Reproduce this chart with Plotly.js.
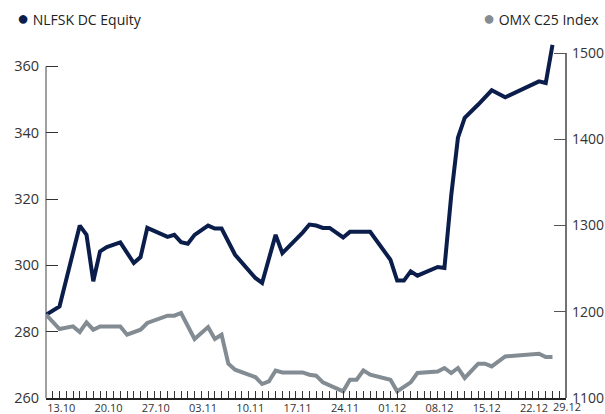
<!DOCTYPE html>
<html>
<head>
<meta charset="utf-8">
<script src="https://cdn.plot.ly/plotly-3.0.1.min.js"></script>
<style>html,body{margin:0;padding:0;background:#fff}#chart{width:605px;height:414px}</style>
</head>
<body>
<div id="chart"></div>
<script>
// NLFSK DC Equity (left axis)
const equityDates = ["2014-10-13","2014-10-15","2014-10-18","2014-10-19","2014-10-20","2014-10-21","2014-10-22","2014-10-24","2014-10-26","2014-10-27","2014-10-28","2014-10-31","2014-11-01","2014-11-02","2014-11-03","2014-11-04","2014-11-06","2014-11-07","2014-11-08","2014-11-10","2014-11-13","2014-11-14","2014-11-16","2014-11-17","2014-11-20","2014-11-21","2014-11-22","2014-11-23","2014-11-24","2014-11-26","2014-11-27","2014-11-30","2014-12-03","2014-12-04","2014-12-05","2014-12-06","2014-12-07","2014-12-10","2014-12-11","2014-12-12","2014-12-13","2014-12-14","2014-12-16","2014-12-18","2014-12-20","2014-12-25","2014-12-26","2014-12-27"];
const equityValues = [285.1,287.6,312.0,309.2,295.2,304.2,305.5,306.9,300.7,302.5,311.3,308.6,309.2,307.0,306.5,309.2,312.0,311.1,311.1,303.2,296.2,294.7,309.2,303.7,309.9,312.3,312.0,311.3,311.3,308.4,310.1,310.1,301.7,295.4,295.4,298.2,296.9,299.5,299.2,321.0,338.5,344.5,348.5,352.8,350.7,355.5,355.0,366.5];

// OMX C25 Index (right axis)
const indexDates = ["2014-10-13","2014-10-15","2014-10-17","2014-10-18","2014-10-19","2014-10-20","2014-10-21","2014-10-24","2014-10-25","2014-10-27","2014-10-28","2014-10-31","2014-11-01","2014-11-02","2014-11-04","2014-11-06","2014-11-07","2014-11-08","2014-11-09","2014-11-10","2014-11-13","2014-11-14","2014-11-15","2014-11-16","2014-11-17","2014-11-20","2014-11-21","2014-11-22","2014-11-23","2014-11-26","2014-11-27","2014-11-28","2014-11-29","2014-11-30","2014-12-03","2014-12-04","2014-12-06","2014-12-07","2014-12-10","2014-12-11","2014-12-12","2014-12-13","2014-12-14","2014-12-16","2014-12-17","2014-12-18","2014-12-20","2014-12-25","2014-12-26","2014-12-27"];
const indexValues = [1196.6,1180.0,1183.0,1176.5,1187.7,1179.2,1183.0,1183.0,1173.4,1179.2,1187.0,1195.4,1195.4,1198.6,1168.4,1182.3,1168.4,1173.4,1139.8,1132.8,1124.3,1116.2,1119.2,1131.7,1129.7,1129.7,1127.0,1125.9,1118.1,1107.7,1121.2,1121.2,1132.0,1127.0,1121.2,1107.7,1118.1,1129.0,1130.8,1134.8,1129.0,1134.8,1123.2,1139.8,1139.8,1136.6,1148.2,1151.4,1147.5,1147.5];

const tickDates = ["2014-10-13","2014-10-20","2014-10-27","2014-11-03","2014-11-10","2014-11-17","2014-11-24","2014-12-01","2014-12-08","2014-12-15","2014-12-22"];
const tickLabels = ["13.10","20.10","27.10","03.11","10.11","17.11","24.11","01.12","08.12","15.12","22.12"];
const lastTickDate = "2014-12-29";
const lastTickLabel = "29.12";

const leftTicks = [260,280,300,320,340,360];
const rightTicks = [1100,1200,1300,1400,1500];

const navy = "#0b1e4b";
const grey = "#838c93";
const font = "Open Sans, Noto Sans, sans-serif";

const traces = [
  {x: indexDates, y: indexValues, yaxis: "y2", type: "scatter", mode: "lines",
   line: {color: grey, width: 4}, name: "OMX C25 Index", showlegend: false},
  {x: equityDates, y: equityValues, yaxis: "y", type: "scatter", mode: "lines",
   line: {color: navy, width: 4}, name: "NLFSK DC Equity", showlegend: false}
];

const layout = {
  width: 605, height: 414,
  margin: {l: 46, r: 39, t: 40, b: 16},
  paper_bgcolor: "#fff", plot_bgcolor: "#fff",
  font: {family: font, color: "#333", size: 14},
  xaxis: {
    type: "date", range: ["2014-10-13", lastTickDate],
    tickmode: "array", tickvals: tickDates, ticktext: tickLabels,
    ticks: "inside", ticklen: 7, tickcolor: "#333", tickwidth: 1,
    ticklabelposition: "outside right", ticklabelstandoff: -1,
    minor: {dtick: 86400000, tick0: "2014-10-13", ticks: "inside", ticklen: 7, tickcolor: "#333", tickwidth: 1, showgrid: false},
    showline: true, linecolor: "#222", linewidth: 1.5,
    showgrid: false, zeroline: false, fixedrange: true,
    tickfont: {size: 11, color: "#333"}
  },
  yaxis: {
    range: [260, 367.96], tickmode: "array", tickvals: leftTicks,
    ticks: "inside", ticklen: 12, tickcolor: "#333", tickwidth: 1,
    ticklabelstandoff: 6,
    showline: false, showgrid: false, zeroline: false,
    tickfont: {size: 14.5, color: "#333"}
  },
  yaxis2: {
    range: [1100, 1515.07], overlaying: "y", side: "right",
    tickmode: "array", tickvals: rightTicks,
    ticks: "inside", ticklen: 12, tickcolor: "#555", tickwidth: 1,
    ticklabelstandoff: 5,
    showline: false, showgrid: false, zeroline: false,
    tickfont: {size: 14, color: "#333"}
  },
  shapes: [
    {type: "line", xref: "paper", yref: "y", x0: 0, x1: 0, y0: 260, y1: 360, line: {color: "#808080", width: 1.5}, layer: "below"},
    {type: "line", xref: "paper", yref: "y2", x0: 1, x1: 1, y0: 1100, y1: 1500, line: {color: "#444", width: 1.5}, layer: "below"}
  ],
  annotations: [
    {xref: "paper", yref: "paper", x: -0.06, y: 1.062, xanchor: "left", yanchor: "middle", showarrow: false,
     text: "<span style='font-size:20px;color:" + navy + "'>●</span> NLFSK DC Equity", font: {size: 14, color: "#222"}},
    {xref: "paper", yref: "paper", x: 1.068, y: 1.062, xanchor: "right", yanchor: "middle", showarrow: false,
     text: "<span style='font-size:20px;color:" + grey + "'>●</span> OMX C25 Index", font: {size: 14, color: "#222"}},
    {xref: "x", yref: "paper", x: lastTickDate, y: 0, xanchor: "center", yanchor: "middle", yshift: -8, xshift: 1, borderpad: 0, showarrow: false,
     text: lastTickLabel, font: {size: 11, color: "#333"}}
  ]
};

Plotly.newPlot("chart", traces, layout, {displayModeBar: false, staticPlot: true});
</script>
</body>
</html>
